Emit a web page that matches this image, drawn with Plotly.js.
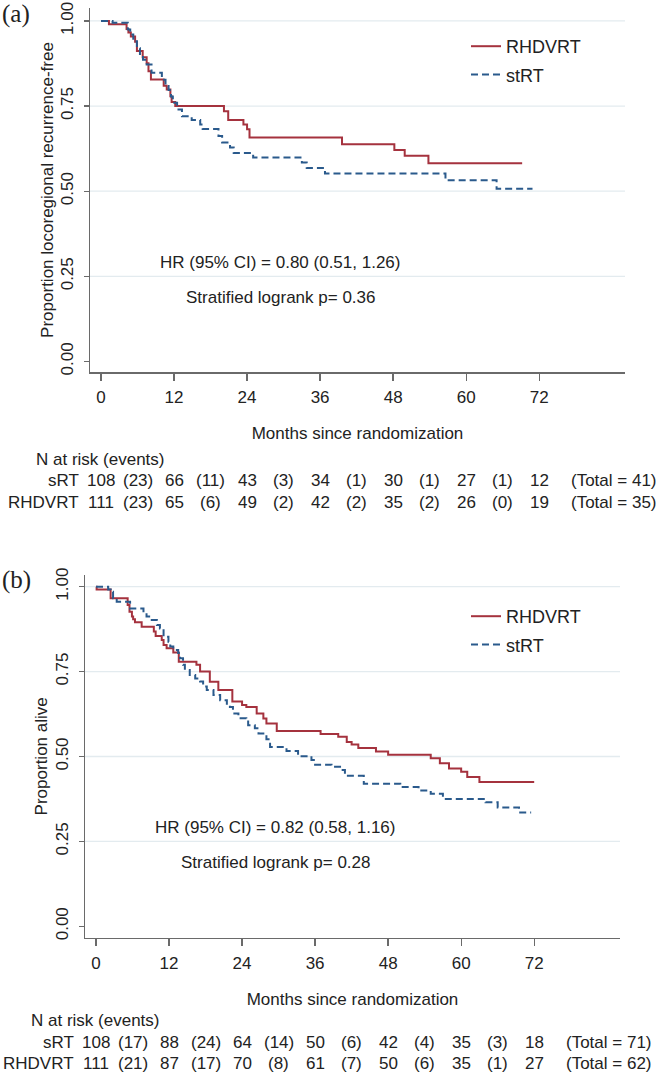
<!DOCTYPE html>
<html><head><meta charset="utf-8">
<script src="https://cdn.plot.ly/plotly-3.0.1.min.js"></script>
<style>html,body{margin:0;padding:0;background:#fff}#chart{width:660px;height:1075px}</style>
</head><body><div id="chart"></div>
<script>
// ---------- data ----------
const tickMonths = [0, 12, 24, 36, 48, 60, 72];
const eventMonths = [6, 18, 30, 42, 54, 66];
const yTicks = [0, 0.25, 0.5, 0.75, 1];
const yTickText = ['0.00', '0.25', '0.50', '0.75', '1.00'];
const groupNames = ['RHDVRT', 'stRT'];
const tableRowNames = ['sRT', 'RHDVRT'];

// Panel (a): locoregional recurrence-free
const aRhdT = [0, 1.3, 4.2, 4.5, 4.9, 5.6, 5.9, 6.85, 7.5, 7.8, 8.2, 10.3, 10.8, 11.4, 11.6, 12.2, 20.2, 20.9, 23.4, 24.0, 24.4, 39.6, 48.2, 49.9, 53.8, 69.2];
const aRhdS = [1.0, 0.99, 0.976, 0.966, 0.954, 0.939, 0.912, 0.893, 0.876, 0.852, 0.828, 0.810, 0.799, 0.779, 0.762, 0.750, 0.735, 0.709, 0.696, 0.682, 0.658, 0.638, 0.621, 0.604, 0.582, 0.582];
const aStT = [0, 1.9, 4.4, 4.8, 5.3, 5.9, 6.4, 6.9, 7.5, 8.3, 10.0, 10.6, 11.1, 11.5, 11.8, 12.5, 13.3, 14.9, 16.3, 16.7, 19.3, 19.9, 21.2, 21.8, 25.0, 33.0, 33.8, 36.8, 56.6, 65.0, 70.9];
const aStS = [1.0, 0.995, 0.975, 0.96, 0.94, 0.92, 0.898, 0.886, 0.872, 0.848, 0.827, 0.809, 0.797, 0.778, 0.760, 0.740, 0.720, 0.709, 0.696, 0.683, 0.662, 0.643, 0.628, 0.612, 0.599, 0.584, 0.568, 0.552, 0.532, 0.507, 0.507];
const aRiskSRT = [108, 66, 43, 34, 30, 27, 12];
const aEventsSRT = [23, 11, 3, 1, 1, 1];
const aTotalSRT = 41;
const aRiskRHD = [111, 65, 49, 42, 35, 26, 19];
const aEventsRHD = [23, 6, 2, 2, 2, 0];
const aTotalRHD = 35;
const aYTitle = 'Proportion locoregional recurrence-free';
const aHR = 'HR (95% CI) = 0.80 (0.51, 1.26)';
const aP = 'Stratified logrank p= 0.36';

// Panel (b): overall survival
const bRhdT = [0, 0.1, 2.4, 5.2, 5.5, 5.9, 6.1, 6.4, 7.5, 9.5, 9.8, 10.8, 11.1, 11.6, 12.7, 13.6, 16.5, 17.1, 18.7, 20.1, 22.4, 24.0, 24.7, 26.4, 27.5, 28.0, 29.7, 36.9, 39.8, 41.2, 42.0, 43.1, 46.0, 48.0, 55.0, 56.5, 58.0, 60.0, 61.0, 63.0, 72.0];
const bRhdS = [1.0, 0.992, 0.966, 0.946, 0.926, 0.912, 0.904, 0.895, 0.882, 0.868, 0.855, 0.843, 0.828, 0.819, 0.806, 0.779, 0.770, 0.750, 0.720, 0.696, 0.662, 0.652, 0.646, 0.627, 0.612, 0.597, 0.575, 0.566, 0.558, 0.543, 0.535, 0.525, 0.515, 0.505, 0.495, 0.48, 0.465, 0.455, 0.44, 0.425, 0.425];
const bStT = [0, 2.0, 2.4, 2.8, 3.4, 5.6, 7.8, 8.3, 8.9, 10.0, 10.5, 11.1, 11.9, 12.2, 12.7, 13.5, 13.8, 14.3, 14.6, 15.4, 16.3, 17.1, 17.6, 18.2, 19.3, 20.4, 21.5, 22.0, 22.5, 23.4, 24.7, 25.0, 26.1, 26.7, 28.0, 28.6, 31.3, 33.2, 35.4, 36.0, 38.7, 40.3, 40.9, 44.0, 50.0, 53.0, 55.0, 57.0, 64.0, 66.0, 69.5, 71.5];
const bStS = [1.0, 0.992, 0.985, 0.966, 0.956, 0.936, 0.922, 0.912, 0.902, 0.887, 0.877, 0.853, 0.838, 0.824, 0.814, 0.805, 0.789, 0.770, 0.755, 0.740, 0.730, 0.721, 0.706, 0.696, 0.681, 0.666, 0.655, 0.646, 0.627, 0.613, 0.606, 0.592, 0.583, 0.568, 0.551, 0.528, 0.516, 0.501, 0.49, 0.476, 0.47, 0.46, 0.443, 0.42, 0.41, 0.40, 0.39, 0.375, 0.365, 0.35, 0.335, 0.335];
const bRiskSRT = [108, 88, 64, 50, 42, 35, 18];
const bEventsSRT = [17, 24, 14, 6, 4, 3];
const bTotalSRT = 71;
const bRiskRHD = [111, 87, 70, 61, 50, 35, 27];
const bEventsRHD = [21, 17, 8, 7, 6, 1];
const bTotalRHD = 62;
const bYTitle = 'Proportion alive';
const bHR = 'HR (95% CI) = 0.82 (0.58, 1.16)';
const bP = 'Stratified logrank p= 0.28';

// ---------- styling ----------
const W = 660, H = 1075;
const py = p => 1 - p / H;      // pixel-from-top -> paper y
const px = p => p / W;          // pixel-from-left -> paper x
const SANS = 'Liberation Sans, Arial, sans-serif';
const SERIF = 'Liberation Serif, Times New Roman, serif';
const RED = '#a5323e';
const BLUE = '#2a5a8c';
const AXC = '#6a6a6a';
const GRID = '#e3ebef';
const FS = 17;
const XR = [-1.81, 86.1];

function kmTraces(tR, sR, tB, sB, xa, ya, lg) {
  return [
    {x: tR, y: sR, type: 'scatter', mode: 'lines', name: groupNames[0], xaxis: xa, yaxis: ya,
     legend: lg, legendgroup: lg + 'r', line: {shape: 'hv', color: RED, width: 2}, hoverinfo: 'skip'},
    {x: tB, y: sB, type: 'scatter', mode: 'lines', name: groupNames[1], xaxis: xa, yaxis: ya,
     legend: lg, legendgroup: lg + 'b', line: {shape: 'hv', color: BLUE, width: 2, dash: '7px,4px'}, hoverinfo: 'skip'}
  ];
}

const traces = [
  ...kmTraces(aRhdT, aRhdS, aStT, aStS, 'x', 'y', 'legend'),
  ...kmTraces(bRhdT, bRhdS, bStT, bStS, 'x2', 'y2', 'legend2')
];

function xAxis(domL, domR, yAnchor) {
  return {
    domain: [px(domL), px(domR)], range: XR, anchor: yAnchor,
    tickmode: 'array', tickvals: tickMonths, ticktext: tickMonths.map(String),
    ticks: 'outside', ticklen: 7, tickwidth: 1.3, tickcolor: AXC,
    showline: true, linecolor: AXC, linewidth: 1.5, showgrid: false, zeroline: false,
    tickfont: {family: SANS, size: FS, color: '#222'}, ticklabelstandoff: 2,
    title: {text: 'Months since randomization', font: {family: SANS, size: FS, color: '#222'}, standoff: 21}
  };
}
function yAxis(domBottomPx, domTopPx, r0, r1, xAnchor, title) {
  return {
    domain: [py(domBottomPx), py(domTopPx)], range: [r0, r1], anchor: xAnchor,
    tickmode: 'array', tickvals: yTicks, ticktext: yTickText, tickangle: -90,
    ticks: 'outside', ticklen: 5, tickwidth: 1.3, tickcolor: AXC,
    showline: true, linecolor: AXC, linewidth: 1.5, showgrid: false, zeroline: false,
    tickfont: {family: SANS, size: FS, color: '#222'}, ticklabelstandoff: 4,
    title: {text: title, font: {family: SANS, size: FS, color: '#222'}, standoff: 0}
  };
}

const shapes = [];
[['x', 'y'], ['x2', 'y2']].forEach(([xa, ya]) => {
  yTicks.filter(v => v > 0).forEach(v => shapes.push({
    type: 'line', layer: 'below', xref: xa + ' domain', yref: ya, x0: 0, x1: 1, y0: v, y1: v,
    line: {color: GRID, width: 1.3}
  }));
});

const annotations = [];
const txt = (text, x, y, xref, yref, xanchor, extra) => annotations.push(Object.assign({
  text, x, y, xref, yref, xanchor, yanchor: 'middle', showarrow: false,
  font: {family: SANS, size: FS, color: '#222'}
}, extra || {}));
// month -> fraction of x-axis domain (lets table text sit left of the plotted range)
const dom = m => (m - XR[0]) / (XR[1] - XR[0]);

function panelText(label, labelY, xa, ya, hr, p, rows) {
  const xd = xa + ' domain';
  txt(label, 0, py(labelY), 'paper', 'paper', 'left', {font: {family: SERIF, size: 25, color: '#222'}});
  txt(hr, 9.4, 0.292, xa, ya, 'left');
  txt(p, 13.6, 0.189, xa, ya, 'left');
  txt('N at risk (events)', dom(-11.0), py(rows.header), xd, 'paper', 'left');
  rows.data.forEach((r, i) => {
    const yy = py(rows.ys[i]);
    txt(tableRowNames[i], dom(-3.3), yy, xd, 'paper', 'right');
    r.risk.forEach((n, j) => txt(String(n), dom(tickMonths[j]), yy, xd, 'paper', 'center'));
    r.events.forEach((e, j) => txt('(' + e + ')', dom(eventMonths[j]), yy, xd, 'paper', 'center'));
    txt('(Total = ' + r.total + ')', dom(84.3), yy, xd, 'paper', 'center');
  });
}

panelText('(a)', 14, 'x', 'y', aHR, aP, {
  header: 459, ys: [481, 502],
  data: [{risk: aRiskSRT, events: aEventsSRT, total: aTotalSRT},
         {risk: aRiskRHD, events: aEventsRHD, total: aTotalRHD}]
});
panelText('(b)', 580, 'x2', 'y2', bHR, bP, {
  header: 1020, ys: [1042, 1063],
  data: [{risk: bRiskSRT, events: bEventsSRT, total: bTotalSRT},
         {risk: bRiskRHD, events: bEventsRHD, total: bTotalRHD}]
});

const legendBase = {
  xanchor: 'left', yanchor: 'top', bgcolor: 'rgba(0,0,0,0)', borderwidth: 0,
  font: {family: SANS, size: 18, color: '#222'}, tracegroupgap: 2, traceorder: 'grouped',
  itemwidth: 30
};

const layout = {
  width: W, height: H, margin: {l: 0, r: 0, t: 0, b: 0},
  paper_bgcolor: '#fff', plot_bgcolor: '#fff', showlegend: true,
  xaxis: xAxis(90, 625, 'y'),
  yaxis: yAxis(372, 8, -0.031, 1.038, 'x', aYTitle),
  xaxis2: xAxis(85, 620, 'y2'),
  yaxis2: yAxis(937.7, 575, -0.0336, 1.0345, 'x2', bYTitle),
  legend: Object.assign({x: px(466), y: py(28)}, legendBase),
  legend2: Object.assign({x: px(466), y: py(598)}, legendBase),
  shapes, annotations
};

Plotly.newPlot('chart', traces, layout, {displayModeBar: false, staticPlot: true});
</script></body></html>
